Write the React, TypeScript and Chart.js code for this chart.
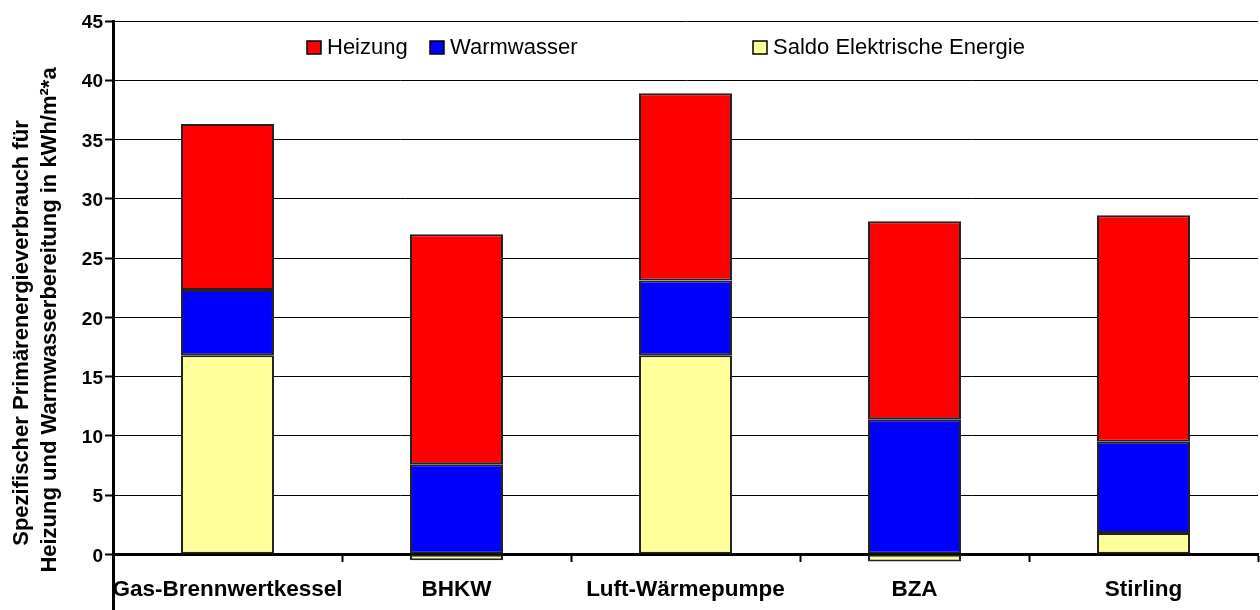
import { useEffect, useRef } from "react";
import { Chart, registerables } from "chart.js";

Chart.register(...registerables);

const categories = ["Gas-Brennwertkessel", "BHKW", "Luft-Wärmepumpe", "BZA", "Stirling"];
const saldoElektrisch = [16.8, -0.5, 16.8, -0.6, 1.8];
const warmwasser = [5.5, 7.6, 6.3, 11.4, 7.7];
const heizung = [14.0, 19.4, 15.8, 16.7, 19.1];

const seriesNames = ["Saldo Elektrische Energie", "Warmwasser", "Heizung"];
const seriesColors = ["#FFFF99", "#0000FF", "#FF0000"];
const legendOrder = [2, 1, 0];
const legendX = [307, 430, 753];

const yTitleLines = [
  "Spezifischer Primärenergieverbrauch für",
  "Heizung und Warmwasserbereitung in kWh/m²*a",
];

const FONT = "'Liberation Sans', Arial, Helvetica, sans-serif";
const CANVAS_H = 627;

const overlayPlugin = {
  id: "overlay",
  afterDraw(chart: any) {
    const ctx = chart.ctx as CanvasRenderingContext2D;
    ctx.save();
    // legend
    ctx.font = `22px ${FONT}`;
    ctx.textBaseline = "middle";
    ctx.textAlign = "left";
    legendOrder.forEach((di, i) => {
      const ds = chart.data.datasets[di];
      const x = legendX[i];
      const y = 41;
      ctx.fillStyle = ds.backgroundColor;
      ctx.fillRect(x, y, 14, 13);
      ctx.strokeStyle = "#000";
      ctx.lineWidth = 1.5;
      ctx.strokeRect(x, y, 14, 13);
      ctx.fillStyle = "#000";
      ctx.fillText(ds.label, x + 20, y + 6.5);
    });
    // y axis title
    ctx.font = `bold 22px ${FONT}`;
    ctx.textAlign = "center";
    ctx.fillStyle = "#000";
    const centers = [
      [22, 333],
      [50, 320],
    ];
    yTitleLines.forEach((line, i) => {
      ctx.save();
      ctx.translate(centers[i][0], centers[i][1]);
      ctx.rotate(-Math.PI / 2);
      ctx.fillText(line, 0, 0);
      ctx.restore();
    });
    ctx.restore();
  },
};

export default function App() {
  const canvasRef = useRef<HTMLCanvasElement | null>(null);

  useEffect(() => {
    if (!canvasRef.current) return;
    const values = [saldoElektrisch, warmwasser, heizung];
    const chart = new Chart(canvasRef.current, {
      type: "bar",
      data: {
        labels: categories,
        datasets: values.map((v, i) => ({
          label: seriesNames[i],
          data: v,
          backgroundColor: seriesColors[i],
          borderColor: "#222",
          borderWidth: 2,
          borderSkipped: false,
          barPercentage: 0.406,
          categoryPercentage: 1,
        })),
      },
      options: {
        responsive: false,
        animation: false,
        devicePixelRatio: 1,
        layout: { padding: { top: 21, right: 2, bottom: 1, left: 0 } },
        plugins: {
          legend: { display: false },
          tooltip: { enabled: false },
          title: { display: false },
        },
        scales: {
          x: {
            stacked: true,
            position: { y: 0 } as any,
            grid: {
              drawOnChartArea: false,
              drawTicks: true,
              tickLength: 6,
              tickColor: "#000",
              tickWidth: 2,
              offset: true,
            },
            border: { display: true, color: "#000", width: 3 },
            ticks: {
              color: "#000",
              padding: 16,
              font: { family: FONT, size: 22.5, weight: "bold" },
              maxRotation: 0,
              autoSkip: false,
            },
          },
          y: {
            stacked: true,
            min: -5,
            max: 45,
            afterFit: (scale: any) => {
              scale.width = 113;
            },
            grid: {
              color: (c: any) => (c.tick && c.tick.value < 0 ? "rgba(0,0,0,0)" : "#000"),
              lineWidth: 1,
              tickLength: 8,
              tickColor: (c: any) => (c.tick && c.tick.value < 0 ? "rgba(0,0,0,0)" : "#000"),
              tickWidth: 2,
            },
            border: { display: true, color: "#000", width: 3 },
            ticks: {
              stepSize: 5,
              color: "#000",
              padding: 2,
              labelOffset: 2,
              font: { family: FONT, size: 19, weight: "bold" },
              callback: (v: any) => (Number(v) < 0 ? "" : String(v)),
            },
          },
        },
      },
      plugins: [overlayPlugin],
    });
    return () => chart.destroy();
  }, []);

  return (
    <div style={{ position: "fixed", left: 0, top: 0, width: 1260, height: CANVAS_H, background: "#fff" }}>
      <canvas ref={canvasRef} width={1260} height={CANVAS_H} style={{ display: "block" }} />
    </div>
  );
}
